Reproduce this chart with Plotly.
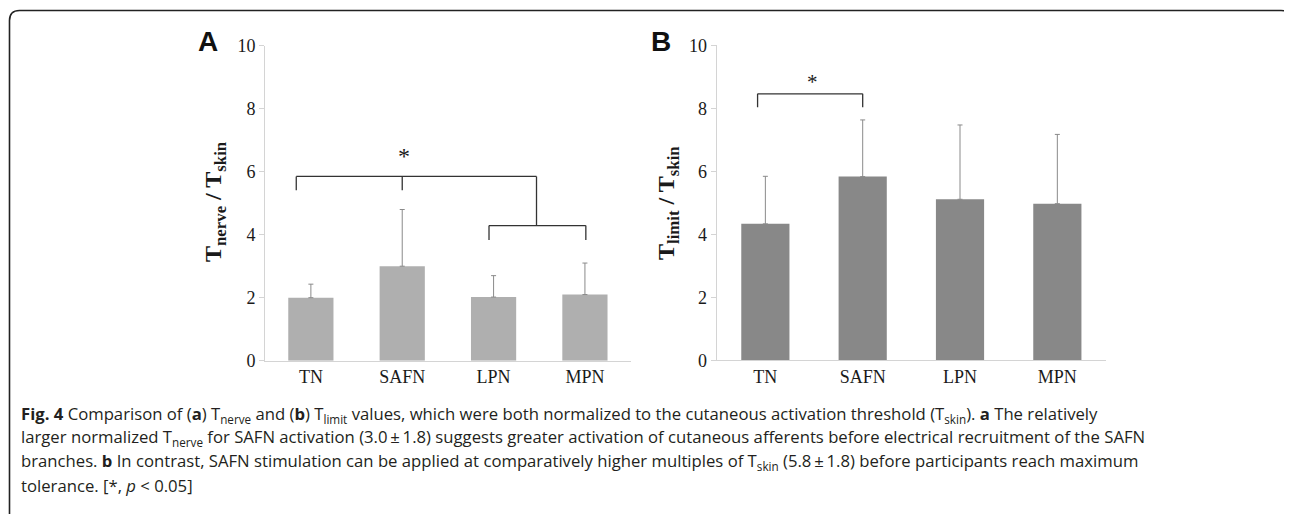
import plotly.graph_objects as go

# ---- data ----
categories = ["TN", "SAFN", "LPN", "MPN"]
nerve_mean = [2.0, 3.0, 2.02, 2.1]
nerve_sd = [0.43, 1.8, 0.68, 1.0]
limit_mean = [4.33, 5.83, 5.11, 4.97]
limit_sd = [1.51, 1.8, 2.36, 2.2]
y_ticks = [0, 2, 4, 6, 8, 10]

W, H = 1292, 514
OFF = 8  # page body margin


def px(x):
    return (x - OFF) / W


def py(y):
    return 1 - (y - OFF) / H


fig = go.Figure()

fig.add_trace(go.Bar(
    x=categories, y=nerve_mean, xaxis="x", yaxis="y",
    marker=dict(color="#afafaf", line=dict(width=0)),
    error_y=dict(type="data", array=nerve_sd, arrayminus=[0] * 4, symmetric=False,
                 color="#8a8a8a", thickness=1, width=2.5),
    showlegend=False, hoverinfo="skip",
))
fig.add_trace(go.Bar(
    x=categories, y=limit_mean, xaxis="x2", yaxis="y2",
    marker=dict(color="#888888", line=dict(width=0)),
    error_y=dict(type="data", array=limit_sd, arrayminus=[0] * 4, symmetric=False,
                 color="#8a8a8a", thickness=1, width=2.5),
    showlegend=False, hoverinfo="skip",
))

tickfont = dict(family="Liberation Serif", size=18, color="#1a1a1a")
axcol = "#d4d4d4"
xcommon = dict(showline=True, linecolor=axcol, linewidth=1, ticks="", showgrid=False,
               zeroline=False, tickfont=tickfont, range=[-0.5, 3.5], fixedrange=True,
               automargin=False)
ycommon = dict(showline=True, linecolor=axcol, linewidth=1, ticks="outside", ticklen=5,
               tickcolor=axcol, tickvals=y_ticks, showgrid=False, zeroline=False,
               tickfont=tickfont, range=[0, 10], fixedrange=True, automargin=False)

fig.update_layout(
    width=W, height=H, margin=dict(l=0, r=0, t=0, b=0, autoexpand=False),
    paper_bgcolor="white", plot_bgcolor="white",
    bargap=0.505,
    xaxis=dict(domain=[px(265.2), px(630.6)], anchor="y", **xcommon),
    yaxis=dict(domain=[py(360.7), py(45.7)], anchor="x", **ycommon),
    xaxis2=dict(domain=[px(716.7), px(1106)], anchor="y2", **xcommon),
    yaxis2=dict(domain=[py(360.2), py(45.3)], anchor="x2", **ycommon),
)

line = dict(color="#333333", width=1.3)
shapes = []
# Panel A brackets
for (x0, y0, x1, y1) in [
    (-0.16, 5.85, 2.47, 5.85), (-0.16, 5.85, -0.16, 5.41), (1.0, 5.85, 1.0, 5.41),
    (2.47, 5.85, 2.47, 4.29),
    (1.95, 4.29, 3.01, 4.29), (1.95, 4.29, 1.95, 3.83), (3.01, 4.29, 3.01, 3.83),
]:
    shapes.append(dict(type="line", xref="x", yref="y", x0=x0, y0=y0, x1=x1, y1=y1, line=line))
# Panel B bracket
for (x0, y0, x1, y1) in [
    (-0.08, 8.46, 1.0, 8.46), (-0.08, 8.46, -0.08, 8.03), (1.0, 8.46, 1.0, 8.03),
]:
    shapes.append(dict(type="line", xref="x2", yref="y2", x0=x0, y0=y0, x1=x1, y1=y1, line=line))

# rounded outer frame
L, T, R, B = 9.5, 10.5, 1291, 530
r = 10
path = (f"M {px(L)},{py(B)} L {px(L)},{py(T + r)} Q {px(L)},{py(T)} {px(L + r)},{py(T)} "
        f"L {px(R - r)},{py(T)} Q {px(R)},{py(T)} {px(R)},{py(T + r)} L {px(R)},{py(B)}")
shapes.append(dict(type="path", xref="paper", yref="paper", path=path,
                   line=dict(color="#222222", width=1.6)))
fig.update_layout(shapes=shapes)

ann = []
# asterisks
ann.append(dict(xref="x", yref="y", x=1.02, y=6.5, text="*", showarrow=False,
                font=dict(family="Liberation Serif", size=24, color="#1a1a1a"),
                xanchor="center", yanchor="middle"))
ann.append(dict(xref="x2", yref="y2", x=0.48, y=8.84, text="*", showarrow=False,
                font=dict(family="Liberation Serif", size=21, color="#1a1a1a"),
                xanchor="center", yanchor="middle"))
# panel letters
ann.append(dict(xref="paper", yref="paper", x=px(208), y=py(42), text="<b>A</b>", showarrow=False,
                font=dict(family="Liberation Sans", size=28, color="#111111"),
                xanchor="center", yanchor="middle"))
ann.append(dict(xref="paper", yref="paper", x=px(661), y=py(42), text="<b>B</b>", showarrow=False,
                font=dict(family="Liberation Sans", size=28, color="#111111"),
                xanchor="center", yanchor="middle"))
# y-axis titles
ann.append(dict(xref="paper", yref="paper", x=px(215), y=py(202),
                text="<b>T<sub>nerve</sub> / T<sub>skin</sub></b>", showarrow=False, textangle=-90,
                font=dict(family="Liberation Serif", size=24, color="#1a1a1a"),
                xanchor="center", yanchor="middle"))
ann.append(dict(xref="paper", yref="paper", x=px(668), y=py(203),
                text="<b>T<sub>limit</sub> / T<sub>skin</sub></b>", showarrow=False, textangle=-90,
                font=dict(family="Liberation Serif", size=24, color="#1a1a1a"),
                xanchor="center", yanchor="middle"))

# caption
caption_lines = [
    "<b>Fig. 4</b> Comparison of (<b>a</b>) T<sub>nerve</sub> and (<b>b</b>) T<sub>limit</sub> values, which were both normalized to the cutaneous activation threshold (T<sub>skin</sub>). <b>a</b> The relatively",
    "larger normalized T<sub>nerve</sub> for SAFN activation (3.0\u2009±\u20091.8) suggests greater activation of cutaneous afferents before electrical recruitment of the SAFN",
    "branches. <b>b</b> In contrast, SAFN stimulation can be applied at comparatively higher multiples of T<sub>skin</sub> (5.8\u2009±\u20091.8) before participants reach maximum",
    "tolerance. [*, <i>p</i> &lt; 0.05]",
]
for i, t in enumerate(caption_lines):
    ann.append(dict(xref="paper", yref="paper", x=px(19), y=py(414 + i * 23.8), text=t,
                    showarrow=False, xanchor="left", yanchor="middle",
                    font=dict(family="Open Sans", size=16.7, color="#231f20")))

fig.update_layout(annotations=ann)

fig.write_html("out.html")
